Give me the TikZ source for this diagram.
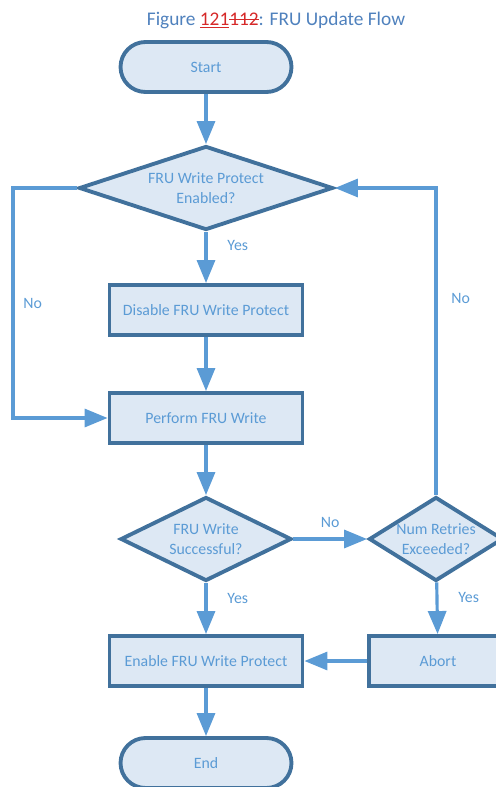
\documentclass[tikz,border=0pt]{standalone}
\usepackage{fontspec}
\setmainfont{Carlito}
\usetikzlibrary{arrows.meta,shapes.geometric}
\definecolor{FlowFill}{RGB}{221,232,244}
\definecolor{FlowEdge}{RGB}{65,113,156}
\definecolor{FlowLine}{RGB}{91,155,213}
\definecolor{TitleBlue}{RGB}{79,129,189}
\definecolor{EditRed}{RGB}{214,40,40}
\newcommand\insmark[1]{\setbox0\hbox{#1}\rlap{\rule[-0.16em]{\wd0}{0.07em}}\box0}
\newcommand\delmark[1]{\setbox0\hbox{#1}\rlap{\rule[0.27em]{\wd0}{0.06em}}\box0}

\begin{document}
\begin{tikzpicture}[x=0.02cm, y=-0.02cm,
    terminal/.style={rectangle, rounded corners=0.5cm, draw=FlowEdge, fill=FlowFill, line width=2.2pt,
      minimum width=3.42cm, minimum height=1cm, text=FlowLine, font=\fontsize{9}{11}\selectfont},
    process/.style={rectangle, draw=FlowEdge, fill=FlowFill, line width=2.2pt,
      minimum width=3.86cm, minimum height=1cm, text=FlowLine, font=\fontsize{9}{11}\selectfont},
    decision/.style={diamond, draw=FlowEdge, fill=FlowFill, line width=2.2pt, inner sep=0pt,
      minimum height=1.68cm},
    flowlabel/.style={text=FlowLine, font=\fontsize{9}{11}\selectfont, align=center},
    flow/.style={draw=FlowLine, line width=1.8pt, -{Triangle[length=0.46cm,width=0.36cm]}}]
      \useasboundingbox (0,0) rectangle (496,787);
      \clip (0,0) rectangle (496,787);
      % title
      \node[text=TitleBlue, font=\fontsize{11}{13}\selectfont] (title) at (276,20)
        {Figure \textcolor{EditRed}{\insmark{121}\delmark{112}}: FRU Update Flow};
      % shapes
      \node[terminal] (start) at (206,67) {Start};
      \node[decision, minimum width=5.08cm,
        label={[flowlabel]center:{FRU Write Protect\\Enabled?}}] (wpcheck) at (206,188) {};
      \node[process] (disable) at (206,310) {Disable FRU Write Protect};
      \node[process] (write) at (206,418) {Perform FRU Write};
      \node[decision, minimum width=3.42cm,
        label={[flowlabel]center:{FRU Write\\Successful?}}] (okcheck) at (206,539) {};
      \node[decision, minimum width=2.68cm,
        label={[flowlabel]center:{Num Retries\\Exceeded?}}] (retrycheck) at (436,539) {};
      \node[process] (enable) at (206,661) {Enable FRU Write Protect};
      \node[process, minimum width=2.76cm] (abort) at (438,661) {Abort};
      \node[terminal] (finish) at (206,763) {End};
      \coordinate (leftturn) at (13,188);
      % connectors
      \draw[flow] (start) -- (wpcheck);
      \draw[flow] (wpcheck) -- node[flowlabel, pos=0.26, right=0.28cm] {Yes} (disable);
      \draw[flow] (disable) -- (write);
      \draw[flow] (wpcheck.west) -- (leftturn) |- node[flowlabel, pos=0.25, right=0.06cm] {No} (write.west);
      \draw[flow] (write) -- (okcheck);
      \draw[flow] (okcheck.east) -- node[flowlabel, above=2pt] {No} (retrycheck.west);
      \draw[flow] (retrycheck.north) |- node[flowlabel, pos=0.32, right=0.16cm] {No} (wpcheck.east);
      \draw[flow] (okcheck) -- node[flowlabel, pos=0.3, right=0.28cm] {Yes} (enable);
      \draw[flow] (retrycheck) -- node[flowlabel, pos=0.3, right=0.28cm] {Yes} (abort);
      \draw[flow] (abort) -- (enable);
      \draw[flow] (enable) -- (finish);
\end{tikzpicture}
\end{document}
